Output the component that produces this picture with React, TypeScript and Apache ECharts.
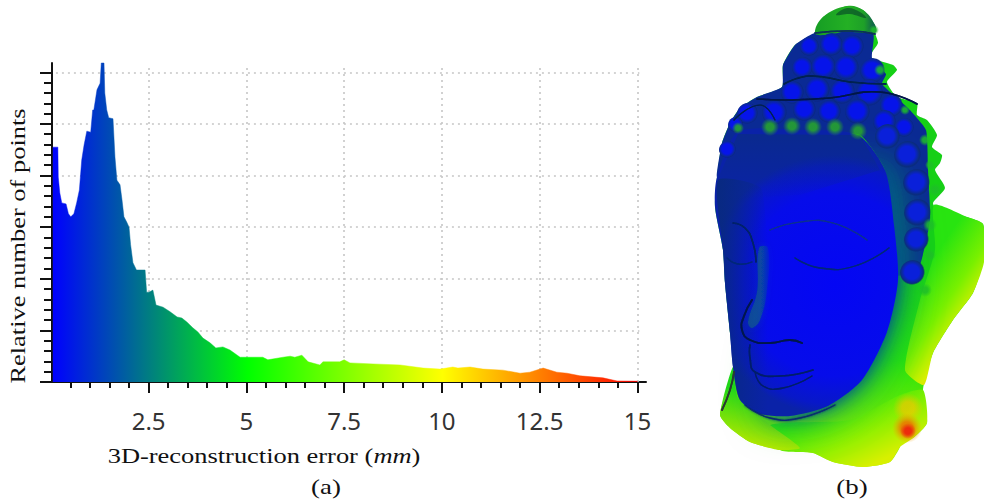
import React, { useEffect, useRef } from "react";
import * as echarts from "echarts";

const errorMm = [0.05,0.18,0.19,0.23,0.28,0.39,0.45,0.51,0.59,0.66,0.73,0.79,0.85,0.92,1.02,1.07,1.10,1.18,1.26,1.29,1.36,1.38,1.43,1.48,1.59,1.64,1.69,1.77,1.82,1.87,1.94,2.0,2.04,2.10,2.19,2.41,2.45,2.51,2.61,2.69,2.87,3.05,3.23,3.35,3.48,3.63,3.76,3.89,4.07,4.22,4.40,4.58,4.84,5.42,5.55,5.94,6.12,6.24,6.42,6.58,6.88,6.96,7.39,7.50,7.65,8.24,8.93,9.52,9.95,10.28,10.41,10.72,11.05,11.56,12.0,12.25,12.59,12.94,13.2,13.53,14.12,14.48,15.0];
const relativePoints = [455,455,397,366,347,345,326,320,326,347,372,430,459,486,484,527,527,566,579,618,618,560,527,512,510,436,391,382,353,320,310,300,266,231,217,217,174,174,178,149,145,136,126,124,116,105,97,85,76,66,68,62,48,48,43,48,50,48,52,39,33,39,39,43,37,35,33,27,25,29,27,29,25,23,17,19,27,19,17,12,8,2,1.5];
const xMajorTicks = [2.5,5,7.5,10,12.5,15];
const xMinorTicks = [0.5,1,1.5,2,3,3.5,4,4.5,5.5,6,6.5,7,8,8.5,9,9.5,10.5,11,11.5,12,13,13.5,14,14.5];
const yMajorTicks = [0,100,200,300,400,500,600];
const yMinorTicks = [20,40,60,80,120,140,160,180,220,240,260,280,320,340,360,380,420,440,460,480,520,540,560,580];
const xMin = 0.03, xMax = 15.22, yMax = 618;
const SERIF = "'Liberation Serif', serif";

const R = (cx: number, cy: number, r: number, stops: [number, string][]) =>
  new echarts.graphic.RadialGradient(cx, cy, r, stops.map(([offset, color]) => ({ offset, color })), true);
const L = (x1: number, y1: number, x2: number, y2: number, stops: [number, string][]) =>
  new echarts.graphic.LinearGradient(x1, y1, x2, y2, stops.map(([offset, color]) => ({ offset, color })), true);

const poly = (points: number[][], style: any, smooth = 0.3) => ({ type: "polygon", silent: true, shape: { points, smooth }, style });
const stroke = (points: number[][], color: string, lineWidth: number, blur = 1.5, smooth = 0.5) => ({
  type: "polyline", silent: true, shape: { points, smooth },
  style: { stroke: color, lineWidth, fill: "none", shadowColor: blur ? color : "transparent", shadowBlur: blur, lineCap: "round", lineJoin: "round" },
});
const curl = (cx: number, cy: number, r: number, tint = "#0614ea", rim = "#0a2a90") => ({
  type: "circle", silent: true, shape: { cx, cy, r },
  style: { fill: R(cx - 1, cy - 1, r, [[0, tint], [0.55, tint], [0.88, rim], [1, "rgba(8,30,110,0)"]]) },
});
const glow = (cx: number, cy: number, r: number, color: string, edge: string) => ({
  type: "circle", silent: true, shape: { cx, cy, r },
  style: { fill: R(cx, cy, r, [[0, color], [0.4, color], [1, edge]]) },
});

const silhouette = [[815,33],[823,17],[847,6],[863,10],[875,25],[875,33],[878,43],[870,57],[893,65],[897,70],[887,82],[897,97],[917,103],[917,115],[927,120],[937,135],[932,147],[942,155],[940,163],[935,170],[945,188],[933,203],[938,210],[967,217],[983,224],[984,250],[983,263],[973,293],[953,320],[933,353],[923,390],[927,423],[913,438],[900,440],[900,447],[890,462],[863,467],[833,462],[813,453],[780,450],[750,442],[730,428],[720,415],[733,367],[730,333],[725,283],[723,250],[715,207],[717,177],[722,143],[730,123],[740,108],[757,97],[782,87],[783,65],[795,45]];
const softCore = [[880,170],[892,225],[896,280],[885,330],[860,378],[826,404],[790,412],[770,408],[790,300],[820,200]];

const headGraphics = [
  poly(silhouette, { fill: L(0, 250, 0, 470, [[0, "#16d016"], [0.5, "#28e40c"], [1, "#a8f000"]]) }, 0.2),
  // ear and right rim
  poly([[934,205],[967,217],[983,224],[984,262],[973,293],[953,320],[933,353],[924,385],[905,370],[920,300],[935,250]],
    { fill: L(925, 270, 984, 310, [[0, "#28e410"], [0.5, "#78f000"], [0.85, "#d8f000"], [1, "#f0c800"]]) }, 0.2),
  // neck
  poly([[770,425],[850,420],[900,395],[923,390],[927,423],[913,438],[900,447],[890,462],[863,467],[833,462],[813,453],[780,450]],
    { fill: L(830, 405, 860, 470, [[0, "#30e808"], [0.6, "#98f000"], [1, "#d8f000"]]) }, 0.2),
  poly([[738,398],[770,425],[800,448],[780,450],[750,442],[730,428],[720,415],[733,367]],
    { fill: L(745, 390, 735, 440, [[0, "#20d818"], [1, "#b0e800"]]) }, 0.2),
  glow(908, 408, 15, "rgba(240,200,0,0.7)", "rgba(240,200,0,0)"),
  glow(907, 428, 15, "rgba(235,120,0,0.9)", "rgba(240,170,0,0)"),
  glow(908, 431, 8, "#ec2c0c", "rgba(236,44,12,0)"),
  // hair mass
  poly([[815,33],[873,34],[872,58],[886,74],[882,84],[908,108],[926,130],[928,170],[930,220],[918,270],[895,275],[885,170],[860,135],[800,132],[745,140],[717,177],[722,143],[730,123],[740,108],[757,97],[782,87],[783,65],[795,45]],
    { fill: "#0a2a94" }, 0.15),
  // bun
  poly([[815,33],[823,17],[847,6],[863,10],[875,25],[875,33],[850,31],[825,35]],
    { fill: L(820, 22, 875, 22, [[0, "#18a024"], [0.5, "#24b024"], [0.8, "#1ea028"], [1, "#0e5a50"]]) }, 0.4),
  poly([[836,15],[847,8],[860,12],[866,18],[850,14]], { fill: "rgba(8,80,40,0.7)" }, 0.4),
  // soft transition from the blue face to the green flesh
  poly(softCore, { fill: "#0a30a0", shadowColor: "#0a9a50", shadowBlur: 46 }, 0.3),
  poly(softCore, { fill: "#0a30a0", shadowColor: "#0a7078", shadowBlur: 30 }, 0.3),
  poly(softCore, { fill: "#0a30a0", shadowColor: "#0a40a0", shadowBlur: 16 }, 0.3),
  // face
  poly([[738,132],[800,130],[858,135],[885,170],[894,225],[898,280],[887,332],[862,380],[828,406],[790,416],[760,414],[740,400],[733,367],[730,333],[725,283],[723,250],[715,207],[717,177]],
    { fill: R(835, 285, 130, [[0, "#0406f4"], [0.7, "#060cea"], [0.92, "#0818c8"], [1, "#0a22a8"]]) }, 0.25),
  // forehead tone
  poly([[738,134],[860,135],[880,170],[800,195],[718,200],[719,176]], { fill: L(0, 132, 0, 200, [[0, "rgba(10,45,130,0.7)"], [1, "rgba(10,45,130,0)"]]) }, 0),
  // left cheek shade
  poly([[718,180],[762,190],[768,410],[740,400],[733,367],[730,333],[725,283],[723,250]], { fill: L(722, 0, 768, 0, [[0, "rgba(8,42,125,0.85)"], [1, "rgba(8,42,125,0)"]]) }, 0.2),
  // nose bridge
  poly([[759,248],[768,248],[767,290],[760,320],[752,328],[748,322],[757,292]], { fill: L(750, 0, 772, 0, [[0, "rgba(16,110,120,0.5)"], [0.5, "rgba(16,120,110,0.45)"], [1, "rgba(16,120,110,0)"]]), shadowColor: "rgba(16,110,120,0.5)", shadowBlur: 6 }, 0.4),
  // facial lines
  stroke([[752,300],[744,316],[742,330],[750,340],[770,343],[790,340],[802,343]], "#03184e", 1.8, 1),
  stroke([[750,345],[750,358],[755,372],[780,376],[813,370]], "#041f6c", 1.6, 1),
  stroke([[755,372],[763,386],[783,388],[812,376]], "#041f6c", 1.3, 1),
  stroke([[727,258],[738,264],[752,262]], "#05267a", 1.3, 1),
  stroke([[795,258],[820,268],[855,266],[889,248]], "#05267a", 1.3, 1),
  stroke([[733,223],[745,228],[753,243],[756,262]], "#04206a", 1.6, 1),
  stroke([[770,230],[800,222],[833,223],[867,240]], "#0a2f90", 1.2, 1.5),
  stroke([[722,410],[730,390],[734,372]], "#2a3a30", 1.8, 1),
  stroke([[745,405],[770,418],[800,418],[835,405]], "#082a70", 1.4, 2),
  // curls
  ...([[810,47,10],[832,45,12],[853,47,12],[803,68,11],[824,67,13],[847,68,13],[873,71,13]] as number[][]).map(([x, y, r]) => curl(x, y, r)),
  ...([[793,93,12],[818,90,13],[843,92,13],[870,93,14],[892,106,12]] as number[][]).map(([x, y, r]) => curl(x, y, r)),
  ...([[748,114,11],[775,113,13],[805,110,12],[830,112,12],[858,112,13],[885,122,12],[905,128,10]] as number[][]).map(([x, y, r]) => curl(x, y, r)),
  ...([[728,150,9],[736,125,8]] as number[][]).map(([x, y, r]) => curl(x, y, r)),
  ...([[888,137,13],[908,155,14],[917,183,14],[918,213,14],[917,240,13],[913,273,13]] as number[][]).map(([x, y, r]) => curl(x, y, r, "#0a20da", "#0a2e80")),
  ...([[770,127,9],[792,126,9],[813,127,9],[835,127,9],[858,131,9],[738,128,6]] as number[][]).map(([x, y, r]) => glow(x, y, r, "rgba(40,170,40,0.85)", "rgba(40,170,40,0)")),
  ...([[925,140,6],[930,165,5],[935,190,7],[930,225,7],[930,255,6],[925,290,7],[874,30,5],[880,70,6],[905,110,5]] as number[][]).map(([x, y, r]) => glow(x, y, r, "rgba(30,190,40,0.85)", "rgba(30,190,40,0)")),
  stroke([[815,33],[850,31],[875,34]], "#083058", 1.6),
  stroke([[784,84],[810,76],[850,82],[886,84]], "#062050", 1.5),
  stroke([[757,99],[790,100],[830,98],[880,92],[917,104]], "#041848", 1.6),
  stroke([[734,120],[760,105],[775,120]], "#062050", 1.2),
];

const chartTexts = [
  { type: "text", silent: true, x: 18, y: 246, rotation: Math.PI / 2, scaleX: 1.29,
    style: { text: "Relative number of points", fontFamily: SERIF, fontSize: 20.5, fill: "#111", align: "center", verticalAlign: "middle" } },
  { type: "text", silent: true, x: 264, y: 456, scaleX: 1.29,
    style: { text: "3D-reconstruction error ({i|mm})", fontFamily: SERIF, fontSize: 20.5, fill: "#111", align: "center", verticalAlign: "middle",
      rich: { i: { fontFamily: SERIF, fontStyle: "italic", fontSize: 20.5, fill: "#111" } } } },
  { type: "text", silent: true, x: 326, y: 487, scaleX: 1.28, style: { text: "(a)", fontFamily: SERIF, fontSize: 21, fill: "#111", align: "center", verticalAlign: "middle" } },
  { type: "text", silent: true, x: 852, y: 487, scaleX: 1.28, style: { text: "(b)", fontFamily: SERIF, fontSize: 21, fill: "#111", align: "center", verticalAlign: "middle" } },
];

export default function App() {
  const ref = useRef<HTMLDivElement>(null);
  useEffect(() => {
    const chart = echarts.init(ref.current!, undefined, { renderer: "svg" });
    const gridStyle = { color: "#c6c6c6", type: [2, 4] as any, width: 1.6 };
    const gridLines = [
      ...yMajorTicks.slice(1).map((v) => [{ coord: [0.13, v] }, { coord: [15.05, v] }]),
      ...xMajorTicks.map((v) => [{ coord: [v, 0] }, { coord: [v, 614] }]),
    ];
    const areaFill = new echarts.graphic.LinearGradient(0, 0, 1, 0, [
      { offset: 0, color: "#0000ff" },
      { offset: 1 / 3, color: "#00ff00" },
      { offset: 2 / 3, color: "#ffff00" },
      { offset: 1, color: "#ff0000" },
    ]);
    const hiddenX = { type: "value", min: xMin, max: xMax, splitLine: { show: false } };
    const hiddenY = { type: "value", min: 0, max: yMax, splitLine: { show: false } };
    chart.setOption({
      animation: false,
      backgroundColor: "#fff",
      grid: { left: 52, top: 63, width: 594, height: 319, containLabel: false },
      xAxis: [
        { ...hiddenX, position: "bottom",
          axisLine: { show: true, lineStyle: { color: "#111", width: 2 } },
          axisTick: { show: true, length: 11, customValues: xMajorTicks, lineStyle: { color: "#111", width: 2 } },
          axisLabel: { show: true, customValues: xMajorTicks, margin: 26, hideOverlap: false, showMinLabel: true, showMaxLabel: true,
            fontFamily: "'Noto Sans'", fontSize: 24, color: "#333", formatter: (v: number) => String(v) } },
        { ...hiddenX, position: "bottom",
          axisLine: { show: false },
          axisTick: { show: true, length: 6, customValues: xMinorTicks, lineStyle: { color: "#111", width: 2 } },
          axisLabel: { show: false } },
      ],
      yAxis: [
        { ...hiddenY, position: "left",
          axisLine: { show: true, lineStyle: { color: "#111", width: 2 } },
          axisTick: { show: true, length: 12, customValues: yMajorTicks, lineStyle: { color: "#111", width: 2 } },
          axisLabel: { show: false } },
        { ...hiddenY, position: "left",
          axisLine: { show: false },
          axisTick: { show: true, length: 8, customValues: yMinorTicks, lineStyle: { color: "#111", width: 2 } },
          axisLabel: { show: false } },
      ],
      graphic: { elements: [...headGraphics, ...chartTexts] },
      series: [
        { type: "line", z: 1, data: [], silent: true,
          markLine: { silent: true, z: 1, symbol: "none", label: { show: false }, lineStyle: gridStyle, data: gridLines } },
        { type: "line", z: 2, showSymbol: false, silent: true, clip: false,
          data: errorMm.map((x, i) => [x, relativePoints[i]]),
          lineStyle: { width: 1, color: areaFill, opacity: 0.45 },
          areaStyle: { color: areaFill, opacity: 1 } },
      ],
    });
    return () => chart.dispose();
  }, []);
  return <div ref={ref} style={{ position: "fixed", left: 0, top: 0, width: 984, height: 502, background: "#fff" }} />;
}
